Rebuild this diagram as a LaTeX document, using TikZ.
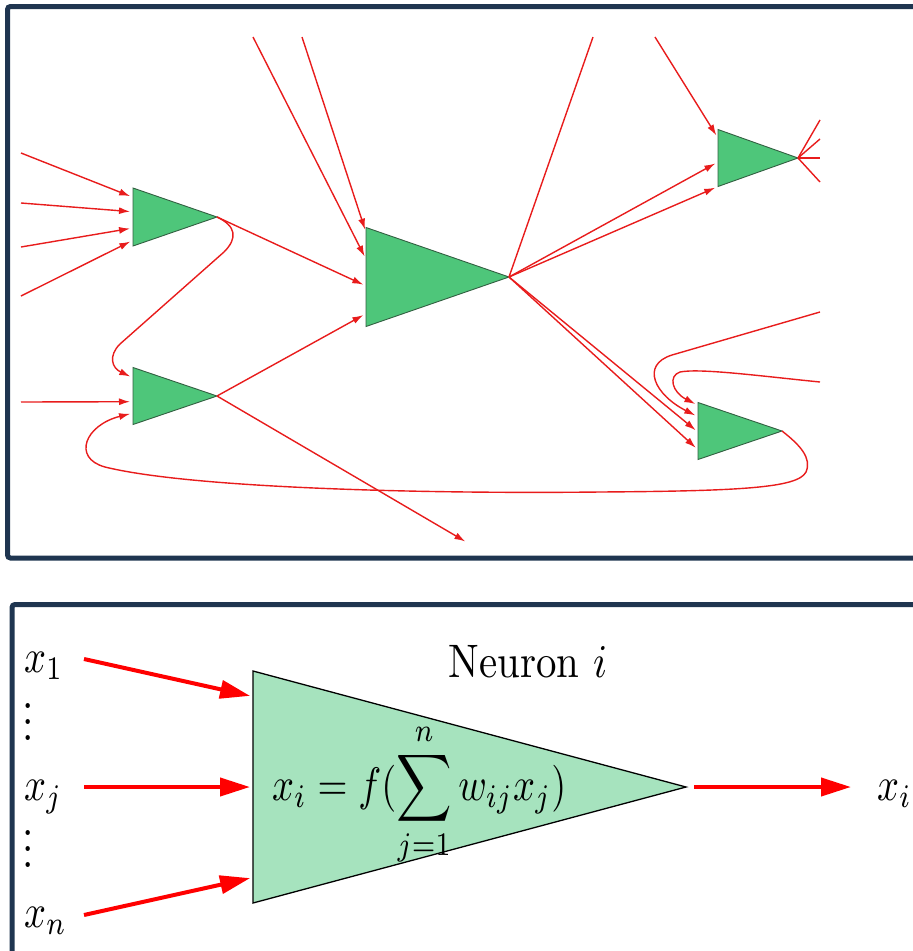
\documentclass[tikz,border=0pt]{standalone}
\usepackage{amsmath}
\usepackage{graphicx}
\usetikzlibrary{arrows.meta, shapes.geometric, calc}

\definecolor{panelblue}{RGB}{31,53,80}
\definecolor{wirered}{RGB}{232,28,28}
\definecolor{cellgreen}{RGB}{78,198,122}
\definecolor{celledge}{RGB}{50,95,65}
\definecolor{lightcell}{RGB}{166,227,190}

% text is set at 10pt and blown up, a little narrower than high
\newcommand{\squeezed}[1]{\scalebox{4.09}[4.7]{#1}}
\newcommand{\narrowed}[1]{\scalebox{3.85}[4.7]{#1}}
\newcommand{\dotstack}{\vbox{\baselineskip3.3pt\lineskiplimit-10pt\hbox{.}\hbox{.}\hbox{.}}}

\tikzset{
  panel/.style={draw=panelblue, line width=5pt, rounded corners=3pt},
  % minimum width is the base, minimum height the length towards the apex
  neuron/.style={isosceles triangle, isosceles triangle stretches, inner sep=0pt,
    outer sep=0pt, draw=celledge, fill=cellgreen, line width=0.9pt},
  wire/.style={draw=wirered, line width=1.4pt},
  feed/.style={->, shorten >=3pt},
  bigarrow/.style={draw=red, line width=4pt, -{Triangle[length=30pt,width=18pt]}},
  bigtext/.style={inner sep=0pt},
}

\begin{document}
\begin{tikzpicture}[x=1pt, y=-1pt, >={Latex[length=11pt,width=7pt]}]
  \path[use as bounding box] (0,0) rectangle (913,951);
  \clip (0,0) rectangle (913,951);

  % upper panel: a piece of a network
  \draw[panel] (7.5,6.5) rectangle (940,558);
  \node[neuron, minimum height=84pt, minimum width=58pt, anchor=apex] (n1) at (217,217) {};
  \node[neuron, minimum height=84pt, minimum width=57pt, anchor=apex] (n2) at (217,396) {};
  \node[neuron, minimum height=143pt, minimum width=99pt, anchor=apex] (n3) at (509,277) {};
  \node[neuron, minimum height=80pt, minimum width=57pt, anchor=apex] (n4) at (798,158) {};
  \node[neuron, minimum height=84pt, minimum width=57pt, anchor=apex] (n5) at (782,431) {};

  % loose ends, cut by the edge of the picture
  \coordinate (in1) at (21,153);
  \coordinate (in2) at (21,203);
  \coordinate (in3) at (21,247);
  \coordinate (in4) at (21,296);
  \coordinate (in5) at (21,402);
  \coordinate (top1) at (253,37);
  \coordinate (top2) at (302,37);
  \coordinate (top3) at (593,37);
  \coordinate (top4) at (655,37);
  \coordinate (out1) at (820,120);
  \coordinate (out2) at (820,139);
  \coordinate (out3) at (820,158);
  \coordinate (out4) at (820,182);
  \coordinate (back1) at (820,312);
  \coordinate (back2) at (820,382);
  \coordinate (down) at (468,543);

  % into n1 and n2 from the left
  \draw[wire, feed] (in1) -- ($(n1.left corner)!.16!(n1.right corner)$);
  \draw[wire, feed] (in2) -- ($(n1.left corner)!.41!(n1.right corner)$);
  \draw[wire, feed] (in3) -- ($(n1.left corner)!.69!(n1.right corner)$);
  \draw[wire, feed] (in4) -- ($(n1.left corner)!.90!(n1.right corner)$);
  \draw[wire, feed] (in5) -- ($(n2.left corner)!.60!(n2.right corner)$);
  \draw[wire, feed] (n1.apex) .. controls (236,226) and (238,238) .. (224,252)
    -- (120,344) .. controls (108,356) and (112,368) .. ($(n2.left corner)!.18!(n2.right corner)$);

  % into n3
  \draw[wire, feed] (top1) -- ($(n3.left corner)!.32!(n3.right corner)$);
  \draw[wire, feed] (top2) -- ($(n3.left corner)!.05!(n3.right corner)$);
  \draw[wire, feed] (n1.apex) -- ($(n3.left corner)!.59!(n3.right corner)$);
  \draw[wire, feed] (n2.apex) -- ($(n3.left corner)!.87!(n3.right corner)$);
  \draw[wire, feed] (n2.apex) -- (down);

  % out of n3
  \draw[wire] (n3.apex) -- (top3);
  \draw[wire, feed] (n3.apex) -- ($(n4.left corner)!.57!(n4.right corner)$);
  \draw[wire, feed] (n3.apex) -- ($(n4.left corner)!1!(n4.right corner)$);
  \draw[wire, feed] (top4) -- ($(n4.left corner)!.15!(n4.right corner)$);
  \draw[wire, feed] (n3.apex) -- ($(n5.left corner)!.52!(n5.right corner)$);
  \draw[wire, feed] (n3.apex) -- ($(n5.left corner)!.83!(n5.right corner)$);

  % out of n4
  \draw[wire] (n4.apex) -- (out1);
  \draw[wire] (n4.apex) -- (out2);
  \draw[wire] (n4.apex) -- (out3);
  \draw[wire] (n4.apex) -- (out4);

  % back loops into n5 and n2
  \draw[wire, feed] (back1) -- (672,355) .. controls (640,365) and (655,395) .. ($(n5.left corner)!.25!(n5.right corner)$);
  \draw[wire, feed] (back2) .. controls (760,376) and (700,368) .. (680,372)
    .. controls (668,376) and (672,392) .. ($(n5.left corner)!.05!(n5.right corner)$);
  \draw[wire, feed] (n5.apex) .. controls (800,445) and (812,458) .. (806,472)
    .. controls (798,488) and (740,491) .. (600,492)
    .. controls (420,494) and (190,488) .. (105,467)
    .. controls (72,458) and (85,425) .. ($(n2.left corner)!.80!(n2.right corner)$);

  % lower panel: one neuron
  \draw[panel] (12,604.5) rectangle (940,990);
  \node[neuron, fill=lightcell, draw=black, line width=1.3pt, minimum height=433pt,
    minimum width=232pt, anchor=apex] (big) at (686,787) {};
  \node[bigtext, anchor=base] (title) at (528,677) {\squeezed{Neuron $i$}};
  \node[bigtext, anchor=base west] (rule) at (272,800)
    {\narrowed{$\displaystyle x_i=f(\sum_{j=1}^{n}w_{ij}x_j)$}};
  \node[bigtext, anchor=base west] (x1) at (24,672) {\narrowed{$x_1$}};
  \node[bigtext, anchor=base west] (xj) at (24,800) {\narrowed{$x_j$}};
  \node[bigtext, anchor=base west] (xn) at (24,927) {\narrowed{$x_n$}};
  \node[bigtext] (dots1) at (28,722) {\squeezed{\dotstack}};
  \node[bigtext] (dots2) at (28,849) {\squeezed{\dotstack}};
  \node[bigtext, anchor=base west] (xi) at (877,800) {\narrowed{$x_i$}};

  \coordinate (s1) at (84,659);
  \coordinate (sj) at (84,787);
  \coordinate (sn) at (84,915);
  \draw[bigarrow, shorten >=3pt] (s1) -- ($(big.left corner)!.11!(big.right corner)$);
  \draw[bigarrow, shorten >=3pt] (sj) -- ($(big.left corner)!.5!(big.right corner)$);
  \draw[bigarrow, shorten >=3pt] (sn) -- ($(big.left corner)!.89!(big.right corner)$);
  \draw[bigarrow, shorten <=8pt, shorten >=26pt] (big.apex) -- (big.apex -| xi.west);
\end{tikzpicture}
\end{document}
